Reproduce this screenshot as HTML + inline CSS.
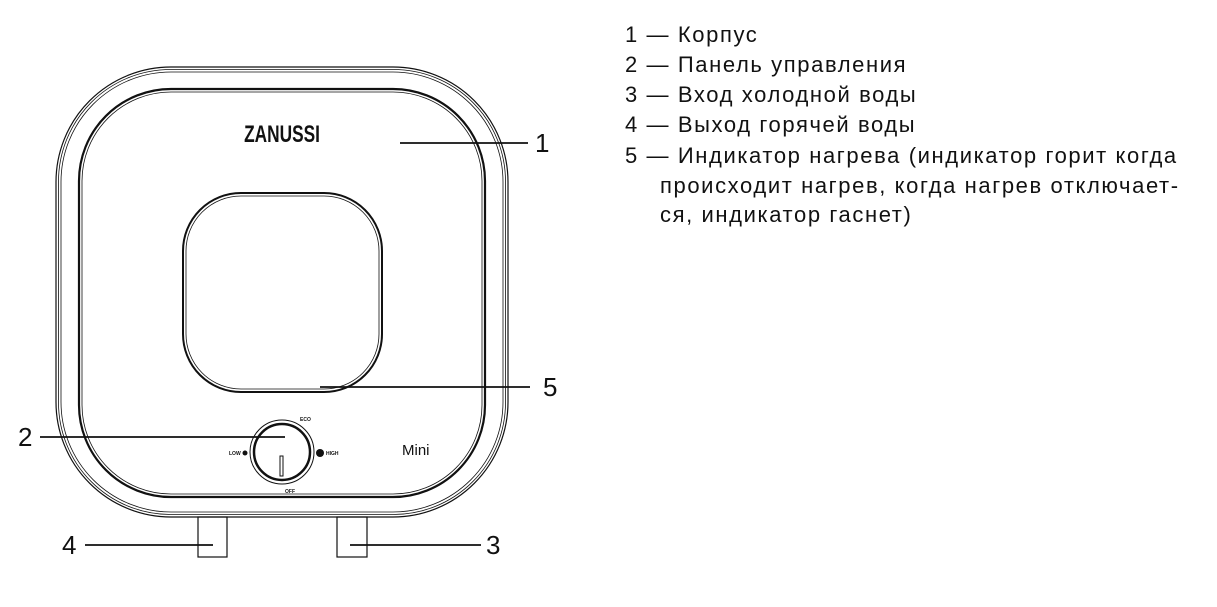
<!DOCTYPE html>
<html><head><meta charset="utf-8"><style>
body{margin:0;width:1217px;height:607px;background:#fff;overflow:hidden;position:relative;font-family:"Liberation Sans",sans-serif}
.t{position:absolute;left:625px;font-size:22px;letter-spacing:1.6px;color:#111;white-space:nowrap;line-height:30px}
</style></head><body>
<svg width="1217" height="607" style="position:absolute;left:0;top:0" font-family="Liberation Sans">
<g fill="none" stroke="#111">
<rect x="56" y="67" width="452" height="450" rx="115" stroke-width="1.2"/>
<rect x="58.5" y="69.5" width="447" height="445" rx="112" stroke-width="0.8"/>
<rect x="61" y="72" width="442" height="440" rx="110" stroke-width="0.8"/>
<rect x="79" y="89" width="406" height="408" rx="92" stroke-width="2.2"/>
<rect x="82" y="92" width="400" height="402" rx="89" stroke-width="0.8"/>
<rect x="183" y="193" width="199" height="199" rx="58" stroke-width="2"/>
<rect x="186" y="196" width="193" height="193" rx="55" stroke-width="0.8"/>
<circle cx="282" cy="452" r="32" stroke-width="1"/>
<circle cx="282" cy="452" r="28" stroke-width="2.5"/>
<rect x="280" y="456" width="3" height="20" stroke-width="1"/>
<rect x="198" y="517" width="29" height="40" stroke-width="1.2"/>
<rect x="337" y="517" width="30" height="40" stroke-width="1.2"/>
<g stroke-width="1.8">
<line x1="400" y1="143" x2="528" y2="143"/>
<line x1="320" y1="387" x2="530" y2="387"/>
<line x1="40" y1="437" x2="285" y2="437"/>
<line x1="85" y1="545" x2="213" y2="545"/>
<line x1="350" y1="545" x2="481" y2="545"/>
</g>
</g>
<circle cx="245" cy="453" r="2.5" fill="#111"/>
<circle cx="320" cy="453" r="4" fill="#111"/>
<g font-size="5" fill="#111" font-weight="bold">
<text x="229" y="455">LOW</text><text x="326" y="455">HIGH</text>
<text x="300" y="421">ECO</text><text x="285" y="493">OFF</text>
</g>
<text x="282" y="142" font-size="24" font-weight="bold" text-anchor="middle" fill="#111" transform="translate(282,142) scale(0.72,1) translate(-282,-142)">ZANUSSI</text>
<text x="402" y="455" font-size="15" fill="#111">Mini</text>
<g font-size="26" fill="#111">
<text x="535" y="152">1</text>
<text x="543" y="396">5</text>
<text x="18" y="446">2</text>
<text x="62" y="554">4</text>
<text x="486" y="554">3</text>
</g>
</svg>
<div class="t" style="top:20px">1 — Корпус</div>
<div class="t" style="top:50px">2 — Панель управления</div>
<div class="t" style="top:80px">3 — Вход холодной воды</div>
<div class="t" style="top:110px">4 — Выход горячей воды</div>
<div class="t" style="top:141px">5 — Индикатор нагрева (индикатор горит когда</div>
<div class="t" style="top:171px;left:660px">происходит нагрев, когда нагрев отключает-</div>
<div class="t" style="top:200px;left:660px">ся, индикатор гаснет)</div>
</body></html>
